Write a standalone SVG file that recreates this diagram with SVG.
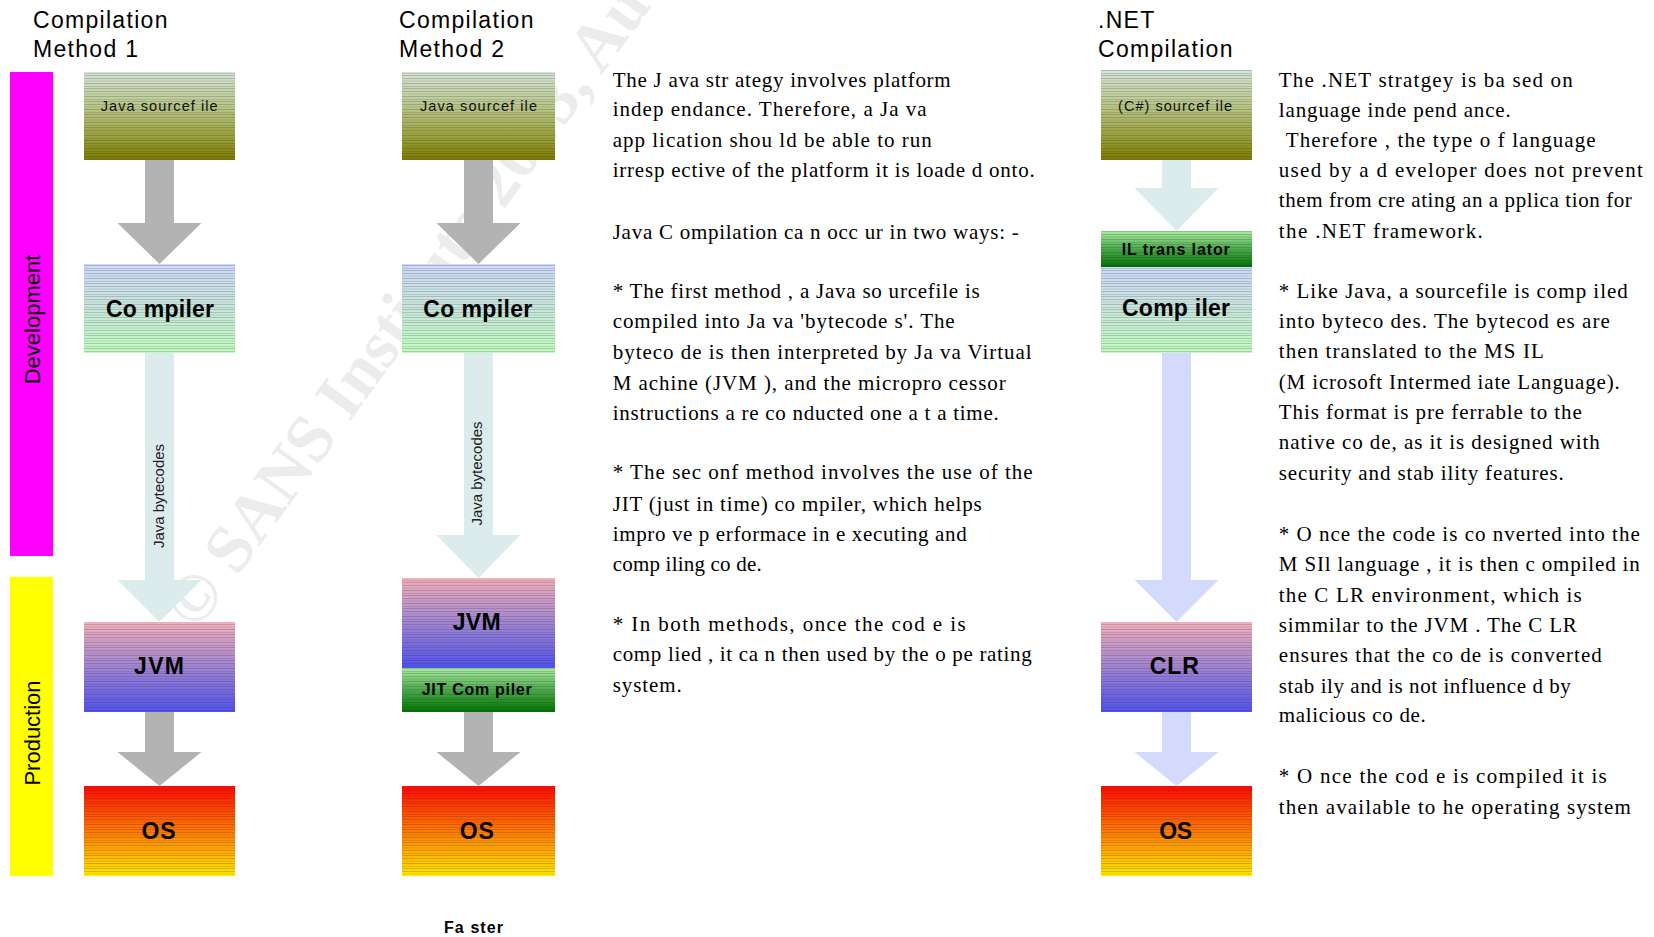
<svg xmlns="http://www.w3.org/2000/svg" width="1654" height="937" viewBox="0 0 1654 937">
<defs>
<linearGradient id="gSrc" x1="0" y1="0" x2="0" y2="1">
<stop offset="0" stop-color="#d3e3d6"/><stop offset="0.4" stop-color="#b9c688"/><stop offset="0.75" stop-color="#99a03a"/><stop offset="1" stop-color="#7c7b00"/>
</linearGradient>
<linearGradient id="gComp" x1="0" y1="0" x2="0" y2="1">
<stop offset="0" stop-color="#cdd7f7"/><stop offset="0.5" stop-color="#c8e6dc"/><stop offset="1" stop-color="#bffcbf"/>
</linearGradient>
<linearGradient id="gJvm" x1="0" y1="0" x2="0" y2="1">
<stop offset="0" stop-color="#f4b0bc"/><stop offset="0.45" stop-color="#a98ad0"/><stop offset="1" stop-color="#5252ee"/>
</linearGradient>
<linearGradient id="gOs" x1="0" y1="0" x2="0" y2="1">
<stop offset="0" stop-color="#ff0a00"/><stop offset="0.5" stop-color="#ff7a00"/><stop offset="1" stop-color="#ffe800"/>
</linearGradient>
<linearGradient id="gGrn" x1="0" y1="0" x2="0" y2="1">
<stop offset="0" stop-color="#a8eca0"/><stop offset="0.5" stop-color="#4caa4c"/><stop offset="1" stop-color="#007400"/>
</linearGradient>
<pattern id="stripes" width="20" height="13" patternUnits="userSpaceOnUse">
<line x1="0" y1="0.5" x2="20" y2="0.5" stroke="#202020" stroke-opacity="0.24" stroke-width="0.8"/>
<line x1="0" y1="3" x2="20" y2="3" stroke="#202020" stroke-opacity="0.15" stroke-width="0.8"/>
<line x1="0" y1="5.5" x2="20" y2="5.5" stroke="#202020" stroke-opacity="0.26" stroke-width="0.8"/>
<line x1="0" y1="8.5" x2="20" y2="8.5" stroke="#202020" stroke-opacity="0.18" stroke-width="0.8"/>
<line x1="0" y1="10.5" x2="20" y2="10.5" stroke="#202020" stroke-opacity="0.26" stroke-width="0.8"/>
</pattern>
<style>
.title{font-family:"Liberation Sans",Arial,sans-serif;font-size:23px;letter-spacing:1.3px;fill:#000}
.band{font-family:"Liberation Sans",Arial,sans-serif;font-size:22px;fill:#000;text-anchor:middle}
.big{font-family:"Liberation Sans",Arial,sans-serif;font-size:23px;font-weight:bold;fill:#000;text-anchor:middle}
.mid{font-family:"Liberation Sans",Arial,sans-serif;font-size:16px;font-weight:bold;fill:#000;text-anchor:middle}
.small{font-family:"Liberation Sans",Arial,sans-serif;font-size:14.5px;fill:#111;text-anchor:middle}
.lbl{font-family:"Liberation Sans",Arial,sans-serif;font-size:15px;fill:#222;text-anchor:middle}
.body{font-family:"Liberation Serif","Times New Roman",serif;font-size:21px;fill:#000}
.wm{font-family:"Liberation Serif","Times New Roman",serif;font-size:68px;font-weight:bold;fill:#ececec}
.st{fill:url(#stripes)}
.gray{fill:#b3b3b3}
.cyan{fill:#dcecec}
.lav{fill:#d3dafb}
</style>
</defs>
<rect x="0" y="0" width="1654" height="937" fill="#fff"/>
<text class="wm" transform="translate(197,632) rotate(-54)">© SANS Institute 2003, Author retains full rights.</text>

<g id="bands">
<rect x="10" y="72" width="43" height="484" fill="#ff00ff"/>
<rect x="10" y="577" width="43" height="299" fill="#ffff00"/>
<text class="band" transform="translate(40,319.5) rotate(-90)">Development</text>
<text class="band" transform="translate(40,733) rotate(-90)">Production</text>
</g>

<g id="titles">
<text class="title" x="33" y="28">Compilation</text>
<text class="title" x="33" y="57">Method 1</text>
<text class="title" x="399" y="28">Compilation</text>
<text class="title" x="399" y="57">Method 2</text>
<text class="title" x="1098" y="28">.NET</text>
<text class="title" x="1098" y="57">Compilation</text>
</g>

<g id="connectors">
<polygon class="gray" points="145,160 174,160 174,223 201.5,223 159.5,264 117.5,223 145,223"/>
<polygon class="cyan" points="145,353 174,353 174,580 201.5,580 159.5,622 117.5,580 145,580"/>
<polygon class="gray" points="145,712 174,712 174,752 201.5,752 159.5,786 117.5,752 145,752"/>
<polygon class="gray" points="464,160 493,160 493,223 520.5,223 478.5,264 436.5,223 464,223"/>
<polygon class="cyan" points="464,353 493,353 493,535 520.5,535 478.5,578 436.5,535 464,535"/>
<polygon class="gray" points="464,712 493,712 493,752 520.5,752 478.5,786 436.5,752 464,752"/>
<polygon class="cyan" points="1162,160 1191,160 1191,188 1218.5,188 1176.5,231 1134.5,188 1162,188"/>
<polygon class="lav" points="1162,353 1191,353 1191,580 1218.5,580 1176.5,622 1134.5,580 1162,580"/>
<polygon class="lav" points="1162,712 1191,712 1191,752 1218.5,752 1176.5,786 1134.5,752 1162,752"/>
<text class="lbl" transform="translate(164,496) rotate(-90)">Java bytecodes</text>
<text class="lbl" transform="translate(482,473.5) rotate(-90)">Java bytecodes</text>
</g>

<g id="m1-source">
<rect x="84" y="72" width="151" height="88" fill="url(#gSrc)"/>
<rect x="84" y="72" width="151" height="88" class="st"/>
<text class="small" x="159.2" y="110.5" textLength="117" lengthAdjust="spacing">Java sourcef ile</text>
</g>
<g id="m1-compiler">
<rect x="84" y="264" width="151" height="89" fill="url(#gComp)"/>
<rect x="84" y="264" width="151" height="89" class="st"/>
<text class="big" x="160" y="317" font-size="24" textLength="108" lengthAdjust="spacing">Co mpiler</text>
</g>
<g id="m1-jvm">
<rect x="84" y="622" width="151" height="90" fill="url(#gJvm)"/>
<rect x="84" y="622" width="151" height="90" class="st"/>
<text class="big" x="159" y="674" textLength="50" lengthAdjust="spacing">JVM</text>
</g>
<g id="m1-os">
<rect x="84" y="786" width="151" height="90" fill="url(#gOs)"/>
<rect x="84" y="786" width="151" height="90" class="st"/>
<text class="big" x="158.6" y="839" textLength="34" lengthAdjust="spacing">OS</text>
</g>

<g id="m2-source">
<rect x="402" y="72" width="153" height="88" fill="url(#gSrc)"/>
<rect x="402" y="72" width="153" height="88" class="st"/>
<text class="small" x="478.5" y="110.5" textLength="117" lengthAdjust="spacing">Java sourcef ile</text>
</g>
<g id="m2-compiler">
<rect x="402" y="264" width="153" height="89" fill="url(#gComp)"/>
<rect x="402" y="264" width="153" height="89" class="st"/>
<text class="big" x="477.8" y="317" font-size="24" textLength="109" lengthAdjust="spacing">Co mpiler</text>
</g>
<g id="m2-jvm">
<rect x="402" y="578" width="153" height="90" fill="url(#gJvm)"/>
<rect x="402" y="578" width="153" height="90" class="st"/>
<text class="big" x="476.7" y="630" textLength="48" lengthAdjust="spacing">JVM</text>
</g>
<g id="m2-jit">
<rect x="402" y="668" width="153" height="44" fill="url(#gGrn)"/>
<rect x="402" y="668" width="153" height="44" class="st"/>
<text class="mid" x="476.7" y="695" font-size="17" textLength="110" lengthAdjust="spacing">JIT Com piler</text>
</g>
<g id="m2-os">
<rect x="402" y="786" width="153" height="90" fill="url(#gOs)"/>
<rect x="402" y="786" width="153" height="90" class="st"/>
<text class="big" x="476.8" y="839" textLength="34" lengthAdjust="spacing">OS</text>
</g>
<g id="faster">
<text class="mid" x="473.5" y="933" font-size="17" textLength="59" lengthAdjust="spacing">Fa ster</text>
</g>

<g id="net-source">
<rect x="1101" y="70" width="151" height="90" fill="url(#gSrc)"/>
<rect x="1101" y="70" width="151" height="90" class="st"/>
<text class="small" x="1175" y="110.5" textLength="114" lengthAdjust="spacing">(C#) sourcef ile</text>
</g>
<g id="net-il">
<rect x="1101" y="231" width="151" height="36" fill="url(#gGrn)"/>
<rect x="1101" y="231" width="151" height="36" class="st"/>
<text class="mid" x="1175.8" y="255" textLength="108" lengthAdjust="spacing">IL trans lator</text>
</g>
<g id="net-compiler">
<rect x="1101" y="267" width="151" height="86" fill="url(#gComp)"/>
<rect x="1101" y="267" width="151" height="86" class="st"/>
<text class="big" x="1176" y="316" font-size="24" textLength="108" lengthAdjust="spacing">Comp iler</text>
</g>
<g id="net-clr">
<rect x="1101" y="622" width="151" height="90" fill="url(#gJvm)"/>
<rect x="1101" y="622" width="151" height="90" class="st"/>
<text class="big" x="1174.3" y="674" textLength="49" lengthAdjust="spacing">CLR</text>
</g>
<g id="net-os">
<rect x="1101" y="786" width="151" height="90" fill="url(#gOs)"/>
<rect x="1101" y="786" width="151" height="90" class="st"/>
<text class="big" x="1175.7" y="839" textLength="33" lengthAdjust="spacing">OS</text>
</g>

<g id="java-text" class="body">
<text x="612.7" y="86.5" textLength="338" lengthAdjust="spacing">The J ava str ategy involves platform</text>
<text x="612.7" y="116" textLength="314" lengthAdjust="spacing">indep endance. Therefore, a Ja va</text>
<text x="612.7" y="146.7" textLength="319" lengthAdjust="spacing">app lication shou ld be able to run</text>
<text x="612.7" y="176.5" textLength="422" lengthAdjust="spacing">irresp ective of the platform it is loade d onto.</text>
<text x="612.7" y="238.5" textLength="406" lengthAdjust="spacing">Java C ompilation ca n occ ur in two ways: -</text>
<text x="612.7" y="298" textLength="367" lengthAdjust="spacing">* The first method , a Java so urcefile is</text>
<text x="612.7" y="328.3" textLength="342" lengthAdjust="spacing">compiled into Ja va 'bytecode s'. The</text>
<text x="612.7" y="358.7" textLength="419" lengthAdjust="spacing">byteco de is then interpreted by Ja va Virtual</text>
<text x="612.7" y="390" textLength="393" lengthAdjust="spacing">M achine (JVM ), and the micropro cessor</text>
<text x="612.7" y="420" textLength="386" lengthAdjust="spacing">instructions a re co nducted one a t a time.</text>
<text x="612.7" y="479" textLength="420" lengthAdjust="spacing">* The sec onf method involves the use of the</text>
<text x="612.7" y="511" textLength="369" lengthAdjust="spacing">JIT (just in time) co mpiler, which helps</text>
<text x="612.7" y="541" textLength="354" lengthAdjust="spacing">impro ve p erformace in e xecuting and</text>
<text x="612.7" y="571" textLength="149" lengthAdjust="spacing">comp iling co de.</text>
<text x="612.7" y="631" textLength="353" lengthAdjust="spacing">* In both methods, once the cod e is</text>
<text x="612.7" y="661.3" textLength="419" lengthAdjust="spacing">comp lied , it ca n then used by the o pe rating</text>
<text x="612.7" y="691.7" textLength="69" lengthAdjust="spacing">system.</text>
</g>

<g id="net-text" class="body">
<text x="1278.8" y="87" textLength="294" lengthAdjust="spacing">The .NET stratgey is ba sed on</text>
<text x="1278.8" y="117" textLength="232" lengthAdjust="spacing">language inde pend ance.</text>
<text x="1285.7" y="146.7" textLength="310" lengthAdjust="spacing">Therefore , the type o f language</text>
<text x="1278.8" y="177" textLength="364" lengthAdjust="spacing">used by a d eveloper does not prevent</text>
<text x="1278.8" y="207" textLength="353" lengthAdjust="spacing">them from cre ating an a pplica tion for</text>
<text x="1278.8" y="238" textLength="204" lengthAdjust="spacing">the .NET framework.</text>
<text x="1278.8" y="297.6" textLength="349" lengthAdjust="spacing">* Like Java, a sourcefile is comp iled</text>
<text x="1278.8" y="328.2" textLength="331" lengthAdjust="spacing">into byteco des. The bytecod es are</text>
<text x="1278.8" y="358.3" textLength="265" lengthAdjust="spacing">then translated to the MS IL</text>
<text x="1278.8" y="389" textLength="341" lengthAdjust="spacing">(M icrosoft Intermed iate Language).</text>
<text x="1278.8" y="419" textLength="303" lengthAdjust="spacing">This format is pre ferrable to the</text>
<text x="1278.8" y="448.5" textLength="321" lengthAdjust="spacing">native co de, as it is designed with</text>
<text x="1278.8" y="479.5" textLength="285" lengthAdjust="spacing">security and stab ility features.</text>
<text x="1278.8" y="541.4" textLength="361" lengthAdjust="spacing">* O nce the code is co nverted into the</text>
<text x="1278.8" y="571" textLength="361" lengthAdjust="spacing">M SIl language , it is then c ompiled in</text>
<text x="1278.8" y="601.5" textLength="303" lengthAdjust="spacing">the C LR environment, which is</text>
<text x="1278.8" y="631.5" textLength="298" lengthAdjust="spacing">simmilar to the JVM . The C LR</text>
<text x="1278.8" y="662" textLength="323" lengthAdjust="spacing">ensures that the co de is converted</text>
<text x="1278.8" y="692.5" textLength="292" lengthAdjust="spacing">stab ily and is not influence d by</text>
<text x="1278.8" y="722" textLength="147" lengthAdjust="spacing">malicious co de.</text>
<text x="1278.8" y="783" textLength="328" lengthAdjust="spacing">* O nce the cod e is compiled it is</text>
<text x="1278.8" y="814" textLength="352" lengthAdjust="spacing">then available to he operating system</text>
</g>
</svg>
